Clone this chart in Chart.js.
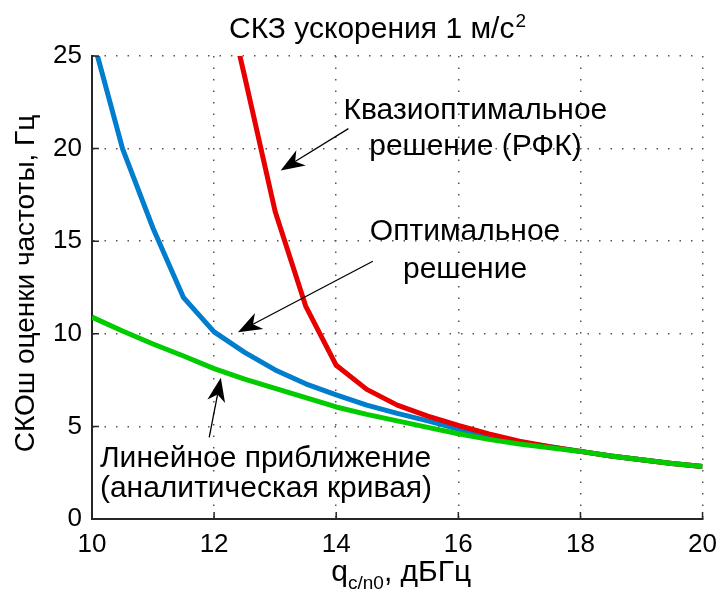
<!DOCTYPE html>
<html>
<head>
<meta charset="utf-8">
<script src="https://cdn.jsdelivr.net/npm/chart.js@4"></script>
<style>
  body { margin: 0; background: #fff; }
  #wrap { width: 727px; height: 596px; }
</style>
</head>
<body>
<div id="wrap"><canvas id="myChart"></canvas></div>
<script>
// q_c/n0, dB-Hz
const qValues = [10, 10.5, 11, 11.5, 12, 12.5, 13, 13.5, 14, 14.5, 15, 15.5, 16, 16.5, 17, 17.5, 18, 18.5, 19, 19.5, 20];
// optimal solution (blue)
const optimal = [26.1, 20.0, 15.7, 11.95, 10.1, 9.0, 8.05, 7.3, 6.7, 6.15, 5.7, 5.3, 4.85, 4.5, 4.15, 3.9, 3.65, 3.4, 3.2, 3.0, 2.83];
// quasi-optimal solution (red), off the chart below 12
const quasiOptimal = [null, null, null, null, 31, 23.9, 16.6, 11.5, 8.3, 7.0, 6.15, 5.55, 5.05, 4.6, 4.2, 3.9, 3.65, 3.4, 3.2, 3.0, 2.83];
// linear approximation (green)
const linearApprox = [10.9, 10.15, 9.45, 8.8, 8.12, 7.55, 7.05, 6.55, 6.05, 5.65, 5.3, 4.95, 4.6, 4.3, 4.05, 3.85, 3.65, 3.4, 3.2, 3.0, 2.83];

const xTicks = [10, 12, 14, 16, 18, 20];
const yTicks = [0, 5, 10, 15, 20, 25];

const FONT = "'Liberation Sans', Arial, Helvetica, sans-serif";

function toPoints(ys) {
  return qValues.map((q, i) => ({ x: q, y: ys[i] }));
}

// text labels and arrows, in data units
const notes = [
  { lines: ['Квазиоптимальное', 'решение (РФК)'], x: 16.28, y: [21.6, 19.63], align: 'center' },
  { lines: ['Оптимальное', 'решение'], x: 16.11, y: [15.08, 12.99], align: 'center' },
  { lines: ['Линейное приближение', '(аналитическая кривая)'], x: 10.13, y: [2.81, 1.19], align: 'left' },
];
const arrows = [
  { from: [14.2, 21.08], to: [13.09, 18.82] },
  { from: [14.6, 13.92], to: [12.39, 10.09] },
  { from: [11.92, 4.41], to: [12.11, 7.63] },
];

function drawArrow(ctx, x0, y0, x1, y1) {
  const ang = Math.atan2(y1 - y0, x1 - x0);
  const len = 24, half = 9, notch = 7;
  const cos = Math.cos(ang), sin = Math.sin(ang);
  const bx = x1 - len * cos, by = y1 - len * sin;
  ctx.beginPath();
  ctx.moveTo(x0, y0);
  ctx.lineTo(bx + notch * cos, by + notch * sin);
  ctx.stroke();
  ctx.beginPath();
  ctx.moveTo(x1, y1);
  ctx.lineTo(bx - half * sin, by + half * cos);
  ctx.lineTo(bx + notch * cos, by + notch * sin);
  ctx.lineTo(bx + half * sin, by - half * cos);
  ctx.closePath();
  ctx.fill();
}

const overlay = {
  id: 'overlay',
  afterDatasetsDraw(chart) {
    const { ctx, chartArea: a, scales: { x, y } } = chart;
    ctx.save();
    // inward tick marks
    ctx.strokeStyle = '#262626';
    ctx.lineWidth = 1.5;
    ctx.beginPath();
    xTicks.forEach(v => {
      const px = x.getPixelForValue(v);
      ctx.moveTo(px, a.bottom);
      ctx.lineTo(px, a.bottom - 7);
    });
    yTicks.forEach(v => {
      const py = y.getPixelForValue(v);
      ctx.moveTo(a.left, py);
      ctx.lineTo(a.left + 7, py);
    });
    ctx.stroke();

    // arrows
    ctx.strokeStyle = '#000';
    ctx.fillStyle = '#000';
    ctx.lineWidth = 1.3;
    arrows.forEach(ar => {
      drawArrow(ctx,
        x.getPixelForValue(ar.from[0]), y.getPixelForValue(ar.from[1]),
        x.getPixelForValue(ar.to[0]), y.getPixelForValue(ar.to[1]));
    });

    // notes
    ctx.font = '30px ' + FONT;
    ctx.textBaseline = 'alphabetic';
    notes.forEach(n => {
      ctx.textAlign = n.align;
      n.lines.forEach((t, i) => {
        ctx.fillText(t, x.getPixelForValue(n.x), y.getPixelForValue(n.y[i]));
      });
    });
    ctx.restore();
  },
  afterDraw(chart) {
    const { ctx, chartArea: a } = chart;
    ctx.save();
    ctx.fillStyle = '#000';
    ctx.textBaseline = 'alphabetic';
    ctx.textAlign = 'left';

    // title with superscript
    const big = '30px ' + FONT, sup = '19px ' + FONT;
    const tMain = 'СКЗ ускорения 1 м/с', tSup = '2';
    ctx.font = big;
    const w1 = ctx.measureText(tMain).width;
    ctx.font = sup;
    const w2 = ctx.measureText(tSup).width;
    let tx = 377 - (w1 + w2) / 2;
    ctx.font = big;
    ctx.fillText(tMain, tx, 38);
    ctx.font = sup;
    ctx.fillText(tSup, tx + w1 + 1, 27);

    // x axis title with subscript
    const p1 = 'q', p2 = 'c/n0', p3 = ', дБГц';
    ctx.font = big;
    const a1 = ctx.measureText(p1).width, a3 = ctx.measureText(p3).width;
    ctx.font = sup;
    const a2 = ctx.measureText(p2).width;
    let sx = (a.left + a.right) / 2 + 4 - (a1 + a2 + a3) / 2;
    ctx.font = big;
    ctx.fillText(p1, sx, 581);
    ctx.font = sup;
    ctx.fillText(p2, sx + a1, 589);
    ctx.font = big;
    ctx.fillText(p3, sx + a1 + a2, 581);

    // y axis title
    ctx.translate(34, (a.top + a.bottom) / 2 - 4);
    ctx.rotate(-Math.PI / 2);
    ctx.textAlign = 'center';
    ctx.font = '28px ' + FONT;
    ctx.fillText('СКОш оценки частоты, Гц', 0, 0);
    ctx.restore();
  }
};

const ctx = document.getElementById('myChart').getContext('2d');
const myChart = new Chart(ctx, {
  type: 'line',
  data: {
    datasets: [
      {
        label: 'Линейное приближение',
        data: toPoints(linearApprox),
        borderColor: 'rgb(0, 204, 0)',
      },
      {
        label: 'Квазиоптимальное решение (РФК)',
        data: toPoints(quasiOptimal),
        borderColor: 'rgb(232, 0, 0)',
      },
      {
        label: 'Оптимальное решение',
        data: toPoints(optimal),
        borderColor: 'rgb(0, 125, 205)',
      },
    ],
  },
  options: {
    responsive: true,
    maintainAspectRatio: false,
    animation: false,
    layout: { padding: { top: 56, right: 16, left: 0, bottom: 0 } },
    elements: {
      line: { borderWidth: 5, tension: 0, fill: false, borderJoinStyle: 'round', borderCapStyle: 'butt' },
      point: { radius: 0, hoverRadius: 0 },
    },
    datasets: { line: { clip: 0, spanGaps: false } },
    plugins: {
      legend: { display: false },
      tooltip: { enabled: false },
      title: { display: false },
    },
    scales: {
      x: {
        type: 'linear',
        min: 10,
        max: 20,
        afterFit: s => { s.height = 77; },
        afterBuildTicks: s => { s.ticks = xTicks.map(v => ({ value: v })); },
        ticks: {
          color: '#000',
          padding: 10,
          font: { family: FONT, size: 26 },
          maxRotation: 0,
        },
        grid: {
          color: '#555',
          lineWidth: 1.5,
          drawTicks: false,
        },
        // in v4 border.dash styles the grid lines
        border: { display: true, color: '#262626', width: 2, dash: [1.5, 10] },
      },
      y: {
        min: 0,
        max: 25,
        afterFit: s => { s.width = 92; },
        afterBuildTicks: s => { s.ticks = yTicks.map(v => ({ value: v })); },
        ticks: {
          color: '#000',
          padding: 10,
          font: { family: FONT, size: 26 },
        },
        grid: {
          color: '#555',
          lineWidth: 1.5,
          drawTicks: false,
        },
        border: { display: true, color: '#262626', width: 2, dash: [1.5, 10] },
      },
    },
  },
  plugins: [overlay],
});
</script>
</body>
</html>
